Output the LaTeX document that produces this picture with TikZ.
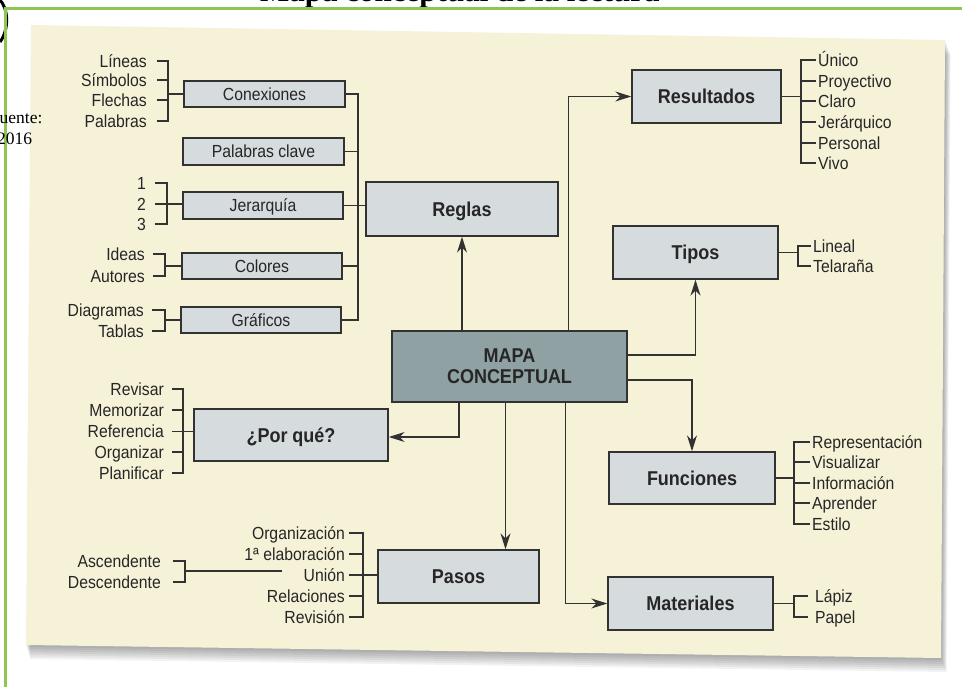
\documentclass[tikz,border=0pt]{standalone}
\usepackage{fontspec}
\setmainfont{Liberation Sans}[FakeStretch=0.9]
\newfontfamily\seriffam{Liberation Serif}
\usetikzlibrary{arrows.meta}
\definecolor{cream}{RGB}{246,242,216}
\definecolor{boxfill}{RGB}{214,219,222}
\definecolor{mapfill}{RGB}{143,161,163}
\definecolor{linec}{RGB}{50,50,50}
\definecolor{txtc}{RGB}{38,38,38}
\definecolor{grn}{RGB}{141,198,80}
\begin{document}
\begin{tikzpicture}[x=1pt,y=-1pt,
  lbl/.style={inner sep=0pt, text height=12.5pt, text depth=0pt, font=\fontsize{17.5}{19}\selectfont, text=txtc},
  lblL/.style={lbl, anchor=east},
  lblR/.style={lbl, anchor=west},
  sbox/.style={draw=linec, fill=boxfill, line width=1.4pt, inner sep=0pt, font=\fontsize{17.5}{19}\selectfont, text=txtc, text height=12.5pt, text depth=0pt},
  bbox/.style={sbox, font=\fontsize{20}{22}\bfseries\selectfont, text height=14.3pt},
  conn/.style={draw=linec, line width=1.4pt},
  arr/.style={conn, -{Stealth[length=16pt,width=10pt,inset=5pt]}},
]
\fill[white] (0,0) rectangle (962,687);
\useasboundingbox (0,0) rectangle (962,687);

% title (cut off at top)
\node[anchor=base west, inner sep=0pt, font=\seriffam\bfseries\fontsize{31}{33}\selectfont] (title) at (260,1.5) {Mapa conceptual de la lectura};

% panel shadow
\foreach \d in {2,4,...,14} {
  \fill[black, opacity=0.05] (31+\d*0.3,25+\d) -- (945+\d*0.4,40+\d) -- (941+\d*0.4,658+\d) -- (26+\d*0.3,645+\d) -- cycle;
}
% panel
\fill[cream] (31,25) -- (945,40) -- (941,658) -- (26,645) -- cycle;

% black artefact and green frame
\draw[black, line width=3pt] (-1,-1) .. controls (9,8) and (9,30) .. (0,42);
\draw[grn, line width=3pt] (3.5,8.5) -- (962,8.5);
\draw[grn, line width=3pt] (5,8.5) -- (5,687);

% source text
\node[anchor=base west, inner sep=0pt, font=\seriffam\fontsize{17.5}{19}\selectfont] (src1) at (-0.5,124) {uente:};
\node[anchor=base west, inner sep=0pt, font=\seriffam\fontsize{17.5}{19}\selectfont] (src2) at (-3,145) {2016};

% boxes
\node[sbox, minimum width=161pt, minimum height=26pt] (conex) at (264.5,94) {Conexiones};
\node[sbox, minimum width=161pt, minimum height=27pt] (palclave) at (263.5,151.5) {Palabras clave};
\node[sbox, minimum width=160pt, minimum height=27pt] (jerar) at (263,205.5) {Jerarquía};
\node[sbox, minimum width=160pt, minimum height=26pt] (colores) at (262,266) {Colores};
\node[sbox, minimum width=160pt, minimum height=26pt] (graficos) at (261,320) {Gráficos};
\node[bbox, minimum width=192pt, minimum height=54pt] (reglas) at (462,209) {Reglas};
\node[draw=linec, fill=mapfill, line width=1.4pt, inner sep=0pt, text=txtc, align=center,
      font=\fontsize{20}{21}\bfseries\selectfont, minimum width=235pt, minimum height=71pt] (mapa) at (509.5,366.5) {MAPA\\CONCEPTUAL};
\node[bbox, minimum width=149pt, minimum height=53pt] (result) at (706.5,96.5) {Resultados};
\node[bbox, minimum width=165pt, minimum height=53pt] (tipos) at (695.5,252.5) {Tipos};
\node[bbox, minimum width=166pt, minimum height=52pt] (func) at (692,478) {Funciones};
\node[bbox, minimum width=165pt, minimum height=53pt] (mater) at (690.5,603.5) {Materiales};
\node[bbox, minimum width=161pt, minimum height=53pt] (pasos) at (458.5,576.5) {Pasos};
\node[bbox, minimum width=194pt, minimum height=52pt] (porque) at (291,435) {¿Por qué?};

% Reglas bus
\coordinate (busx) at (358,0);
\draw[conn] (conex.east) -| (busx |- graficos.east) -- (graficos.east);
\draw[conn] (palclave.east) -- (palclave.east -| busx);
\draw[conn] (colores.east) -- (colores.east -| busx);
\draw[conn] (jerar.east) -- (jerar.east -| reglas.west);

% arrows from MAPA
\draw[arr] (reglas.south |- mapa.north) -- (reglas.south);
\draw[arr] ([xshift=59pt]mapa.north) |- (result.west);
\draw[arr] ([yshift=11.5pt]mapa.east) -| (tipos.south);
\draw[arr] ([yshift=-13.5pt]mapa.east) -| (func.north);
\draw[arr] ([xshift=-50.5pt]mapa.south) |- ([yshift=-2pt]porque.east);
\draw[arr] ([xshift=-4pt]mapa.south) -- ([xshift=-4pt]mapa.south |- pasos.north);
\draw[arr] ([xshift=56pt]mapa.south) |- (mater.west);

% ---- Conexiones list
\node[lblL] (a1) at (147,61) {Líneas};
\node[lblL] (a2) at (147,80) {Símbolos};
\node[lblL] (a3) at (147,100) {Flechas};
\node[lblL] (a4) at (147,121) {Palabras};
\coordinate (bA) at (168,0);
\draw[conn] ([xshift=10pt]a1.east) -- (a1.east -| bA) -- (a4.east -| bA) -- ([xshift=10pt]a4.east);
\draw[conn] ([xshift=10pt]a2.east) -- (a2.east -| bA);
\draw[conn] ([xshift=10pt]a3.east) -- (a3.east -| bA);
\draw[conn] (conex.west) -- (conex.west -| bA);

% ---- Jerarquia list
\node[lblL] (j1) at (146,183) {1};
\node[lblL] (j2) at (146,204) {2};
\node[lblL] (j3) at (146,224) {3};
\coordinate (bJ) at (167,0);
\draw[conn] ([xshift=9pt]j1.east) -- (j1.east -| bJ) -- (j3.east -| bJ) -- ([xshift=9pt]j3.east);
\draw[conn] ([xshift=9pt]j2.east) -- (jerar.west |- j2.east);

% ---- Colores list
\node[lblL] (c1) at (145,254) {Ideas};
\node[lblL] (c2) at (145,276) {Autores};
\coordinate (bC) at (165,0);
\draw[conn] ([xshift=8pt]c1.east) -- (c1.east -| bC) -- (c2.east -| bC) -- ([xshift=8pt]c2.east);
\draw[conn] (colores.west) -- (colores.west -| bC);

% ---- Graficos list
\node[lblL] (g1) at (144,310) {Diagramas};
\node[lblL] (g2) at (144,331) {Tablas};
\coordinate (bG) at (165,0);
\draw[conn] ([xshift=8pt]g1.east) -- (g1.east -| bG) -- (g2.east -| bG) -- ([xshift=8pt]g2.east);
\draw[conn] (graficos.west) -- (graficos.west -| bG);

% ---- Por que list
\node[lblL] (p1) at (164,389) {Revisar};
\node[lblL] (p2) at (164,410) {Memorizar};
\node[lblL] (p3) at (164,431.5) {Referencia};
\node[lblL] (p4) at (164,452) {Organizar};
\node[lblL] (p5) at (164,473) {Planificar};
\coordinate (bP) at (183,0);
\draw[conn] ([xshift=8pt]p1.east) -- (p1.east -| bP) -- (p5.east -| bP) -- ([xshift=8pt]p5.east);
\draw[conn] ([xshift=8pt]p2.east) -- (p2.east -| bP);
\draw[conn] ([xshift=8pt]p4.east) -- (p4.east -| bP);
\draw[conn] ([xshift=8pt]p3.east) -- (porque.west |- p3.east);

% ---- Pasos list
\node[lblL] (s1) at (345,533) {Organización};
\node[lblL] (s2) at (345,554) {1ª elaboración};
\node[lblL] (s3) at (345,575) {Unión};
\node[lblL] (s4) at (345,596) {Relaciones};
\node[lblL] (s5) at (345,617) {Revisión};
\coordinate (bS) at (363,0);
\draw[conn] ([xshift=4pt]s1.east) -- (s1.east -| bS) -- (s5.east -| bS) -- ([xshift=4pt]s5.east);
\draw[conn] ([xshift=4pt]s2.east) -- (s2.east -| bS);
\draw[conn] ([xshift=4pt]s4.east) -- (s4.east -| bS);
\draw[conn] ([xshift=4pt]s3.east) -- (pasos.west |- s3.east);

\node[lblL] (d1) at (161,561) {Ascendente};
\node[lblL] (d2) at (161,582) {Descendente};
\coordinate (bD) at (185,0);
\coordinate (dEnd) at (282,571);
\draw[conn] ([xshift=12pt]d1.east) -- (d1.east -| bD) -- (d2.east -| bD) -- ([xshift=12pt]d2.east);
\draw[conn] (bD |- dEnd) -- (dEnd);

% ---- Resultados list
\node[lblR] (r1) at (818,60) {Único};
\node[lblR] (r2) at (818,81) {Proyectivo};
\node[lblR] (r3) at (818,101) {Claro};
\node[lblR] (r4) at (818,122) {Jerárquico};
\node[lblR] (r5) at (818,143) {Personal};
\node[lblR] (r6) at (818,163) {Vivo};
\coordinate (bR) at (801,0);
\draw[conn] ([xshift=-2pt]r1.west) -- (r1.west -| bR) -- (r6.west -| bR) -- ([xshift=-2pt]r6.west);
\foreach \n in {r2,r3,r4,r5} \draw[conn] ([xshift=-2pt]\n.west) -- (\n.west -| bR);
\draw[conn] (result.east) -- (result.east -| bR);

% ---- Tipos list
\node[lblR] (t1) at (813,246) {Lineal};
\node[lblR] (t2) at (813,266) {Telaraña};
\coordinate (bT) at (798,0);
\draw[conn] ([xshift=-2pt]t1.west) -- (t1.west -| bT) -- (t2.west -| bT) -- ([xshift=-2pt]t2.west);
\draw[conn] (tipos.east) -- (tipos.east -| bT);

% ---- Funciones list
\node[lblR] (f1) at (812,442) {Representación};
\node[lblR] (f2) at (812,462) {Visualizar};
\node[lblR] (f3) at (812,483) {Información};
\node[lblR] (f4) at (812,503) {Aprender};
\node[lblR] (f5) at (812,524) {Estilo};
\coordinate (bF) at (794,0);
\draw[conn] ([xshift=-2pt]f1.west) -- (f1.west -| bF) -- (f5.west -| bF) -- ([xshift=-2pt]f5.west);
\foreach \n in {f2,f3,f4} \draw[conn] ([xshift=-2pt]\n.west) -- (\n.west -| bF);
\draw[conn] (func.east) -- (func.east -| bF);

% ---- Materiales list
\node[lblR] (m1) at (815,596) {Lápiz};
\node[lblR] (m2) at (815,617) {Papel};
\coordinate (bM) at (794,0);
\draw[conn] ([xshift=-7pt]m1.west) -- (m1.west -| bM) -- (m2.west -| bM) -- ([xshift=-7pt]m2.west);
\draw[conn] (mater.east) -- (mater.east -| bM);
\end{tikzpicture}
\end{document}
